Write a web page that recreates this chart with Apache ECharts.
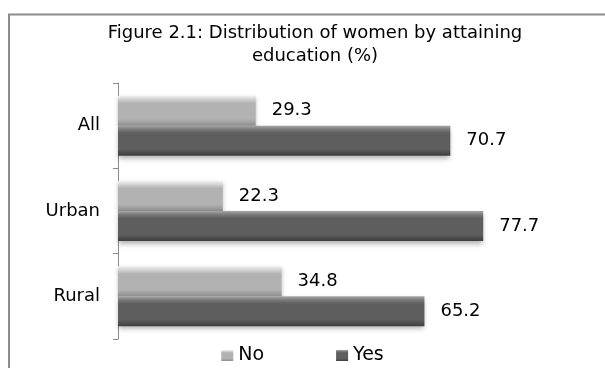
<!DOCTYPE html>
<html>
<head>
<meta charset="utf-8">
<script src="https://cdn.jsdelivr.net/npm/echarts@6/dist/echarts.min.js"></script>
<style>
  html, body { margin: 0; padding: 0; background: #ffffff; }
  #chart { width: 605px; height: 368px; }
</style>
</head>
<body>
<div id="chart"></div>
<script>
// Share of women by whether they attained education (%)
const categories = ['All', 'Urban', 'Rural'];
const noValues = [29.3, 22.3, 34.8];
const yesValues = [70.7, 77.7, 65.2];
const seriesNames = ['No', 'Yes'];
const titleText = 'Figure 2.1: Distribution of women by attaining\neducation (%)';

const FONT = '"DejaVu Sans", "Liberation Sans", Arial, sans-serif';

// Vertical gradient giving each bar a bevelled, raised look
function bevel(top, upper, mid, bottom) {
  return {
    type: 'linear', x: 0, y: 0, x2: 0, y2: 1,
    colorStops: [
      { offset: 0, color: top },
      { offset: 0.12, color: upper },
      { offset: 0.25, color: mid },
      { offset: 0.78, color: mid },
      { offset: 1, color: bottom }
    ]
  };
}

const chart = echarts.init(document.getElementById('chart'), null, { renderer: 'canvas' });

const labelStyle = {
  show: true,
  position: 'right',
  distance: 16,
  color: '#000',
  fontFamily: FONT,
  fontSize: 18,
  formatter: p => p.value.toFixed(1)
};

chart.setOption({
  animation: false,
  backgroundColor: '#ffffff',
  graphic: [
    {
      type: 'rect',
      shape: { x: 9, y: 14.5, width: 640, height: 420 },
      style: { fill: 'none', stroke: '#8c8c8c', lineWidth: 2 },
      silent: true
    },
    {
      type: 'text',
      x: 315,
      y: 22,
      style: {
        text: titleText,
        font: '18px ' + FONT,
        fill: '#000',
        align: 'center',
        lineHeight: 23
      },
      silent: true
    }
  ],
  legend: {
    data: seriesNames,
    bottom: -2,
    left: 'center',
    itemWidth: 12,
    itemHeight: 11,
    itemGap: 72,
    icon: 'rect',
    textStyle: { fontFamily: FONT, fontSize: 19, color: '#000' }
  },
  grid: { left: 118, right: 17, top: 83, bottom: 29, containLabel: false },
  xAxis: {
    type: 'value',
    min: 0,
    max: 100,
    show: false
  },
  yAxis: {
    type: 'category',
    data: categories,
    inverse: true,
    axisLine: { show: true, lineStyle: { color: '#8c8c8c', width: 1 } },
    axisTick: { show: true, length: 5, alignWithLabel: false, lineStyle: { color: '#8c8c8c' } },
    axisLabel: { color: '#000', fontFamily: FONT, fontSize: 18, margin: 18 },
    splitLine: { show: false }
  },
  series: [
    {
      name: seriesNames[0],
      type: 'bar',
      data: noValues,
      barWidth: 30,
      barGap: '0%',
      itemStyle: {
        color: bevel('#f2f2f2', '#d2d2d2', '#b2b2b2', '#8e8e8e'),
        shadowColor: 'rgba(0,0,0,0.25)',
        shadowBlur: 4,
        shadowOffsetY: 2
      },
      label: labelStyle
    },
    {
      name: seriesNames[1],
      type: 'bar',
      data: yesValues,
      barWidth: 30,
      barGap: '0%',
      itemStyle: {
        color: bevel('#a6a6a6', '#7a7a7a', '#5e5e5e', '#3e3e3e'),
        shadowColor: 'rgba(0,0,0,0.3)',
        shadowBlur: 5,
        shadowOffsetY: 3
      },
      label: labelStyle
    }
  ]
});
</script>
</body>
</html>
